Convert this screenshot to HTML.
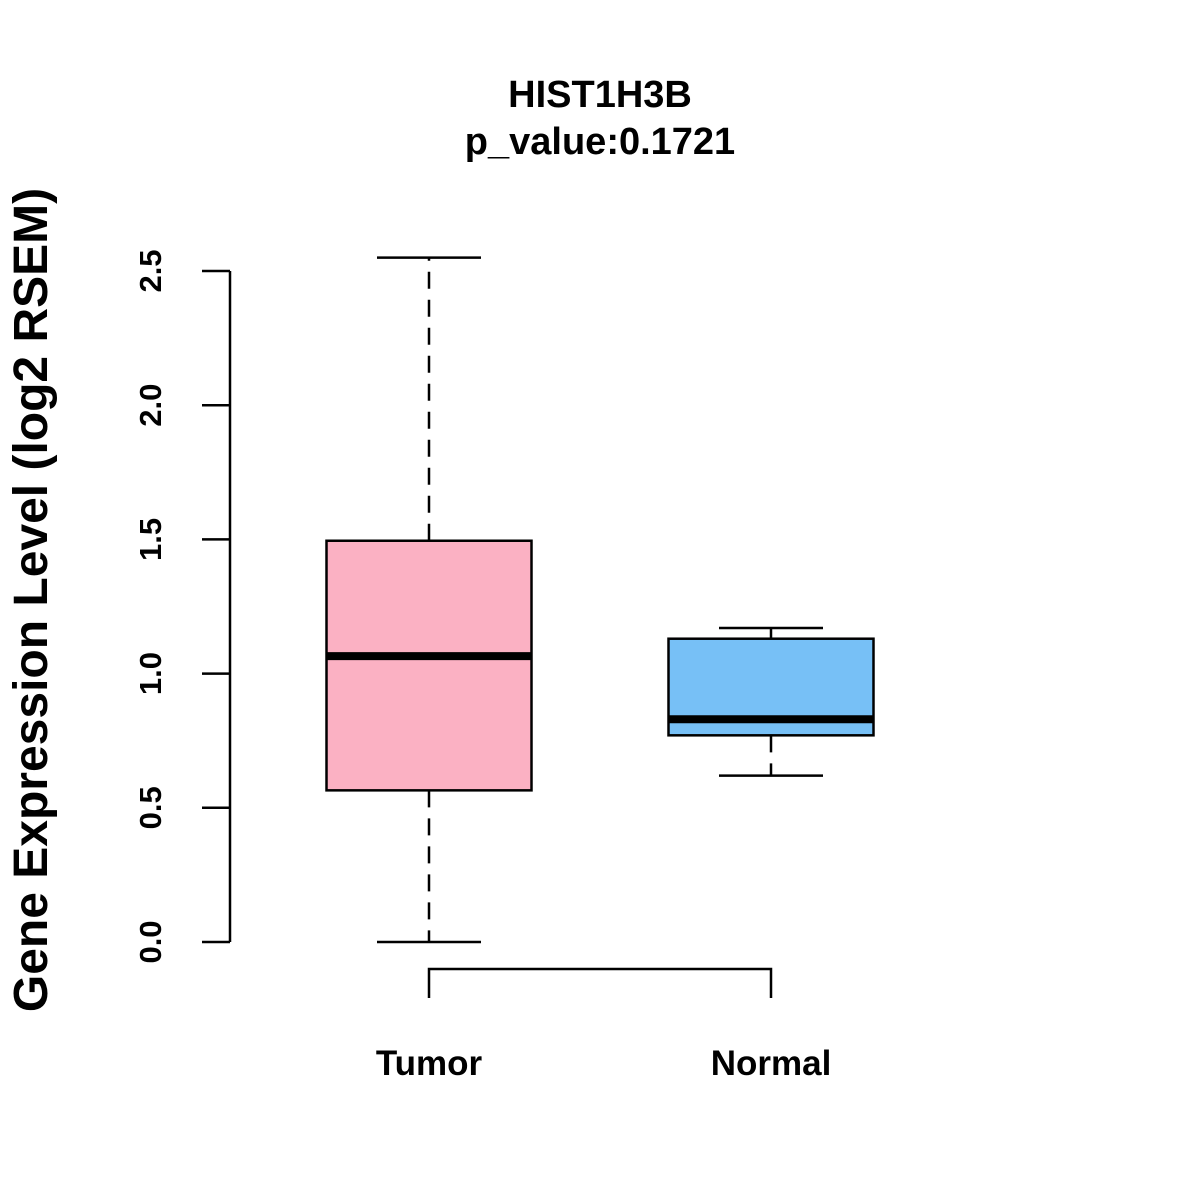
<!DOCTYPE html>
<html><head><meta charset="utf-8"><style>body{margin:0;background:#fff}svg{display:block}</style></head>
<body>
<svg id="chart" width="1200" height="1200" xmlns="http://www.w3.org/2000/svg" font-family="Liberation Sans, sans-serif" font-weight="bold">
<rect width="1200" height="1200" fill="#fff"/>
<text x="600" y="107" text-anchor="middle" font-size="38">HIST1H3B</text>
<text x="600" y="154" text-anchor="middle" font-size="38">p_value:0.1721</text>
<text transform="translate(47,600) rotate(-90)" text-anchor="middle" font-size="48">Gene Expression Level (log2 RSEM)</text>
<g id="yaxis"></g>
<g id="xaxis"></g>
<g id="boxes"></g>
</svg>
<script>
const categories = ["Tumor", "Normal"];
const whiskerLow = [0.0, 0.62];
const q1 = [0.565, 0.77];
const medians = [1.065, 0.83];
const q3 = [1.495, 1.13];
const whiskerHigh = [2.55, 1.17];
const colors = ["#fbb1c3", "#77c0f6"];
const yTicks = [0, 0.5, 1, 1.5, 2, 2.5];
const yTickLabels = ["0.0", "0.5", "1.0", "1.5", "2.0", "2.5"];

const NS = "http://www.w3.org/2000/svg";
const y = v => 942 - v * 268.4;
const x = i => 429 + i * 342;
function mk(parent, tag, attrs) {
  const e = document.createElementNS(NS, tag);
  for (const k in attrs) e.setAttribute(k, attrs[k]);
  parent.appendChild(e);
  return e;
}
const ya = document.getElementById('yaxis');
const l1 = mk(ya, 'line', {x1:230, x2:230, y1:y(yTicks[0]), y2:y(yTicks[yTicks.length-1]), stroke:'#000', 'stroke-width':2.5});


yTicks.forEach((t, i) => {
  const tk = mk(ya, 'line', {x1:202, x2:230, y1:y(t), y2:y(t), stroke:'#000', 'stroke-width':2.5});
  
  
  const tx = mk(ya, 'text', {transform:`translate(161,${y(t)}) rotate(-90)`, 'text-anchor':'middle', 'font-size':31});
  tx.textContent = yTickLabels[i];
  
  
});
const xa = document.getElementById('xaxis');
const bp = mk(xa, 'path', {d:`M${x(0)},998 V969 H${x(categories.length-1)} V998`, fill:'none', stroke:'#000', 'stroke-width':2.5});


categories.forEach((c, i) => {
  const tx = mk(xa, 'text', {x:x(i), y:1075, 'text-anchor':'middle', 'font-size':35});
  tx.textContent = c;
  
  
});
const bx = document.getElementById('boxes');
categories.forEach((c, i) => {
  const cx = x(i), hw = 102.5, cw = 52;
  const g = mk(bx, 'g', {});
  
  
  const w1 = mk(g, 'line', {x1:cx, x2:cx, y1:y(q3[i]), y2:y(whiskerHigh[i]), stroke:'#000', 'stroke-width':2.5, 'stroke-dasharray':'17,11'});
  
  
  const w2 = mk(g, 'line', {x1:cx, x2:cx, y1:y(q1[i]), y2:y(whiskerLow[i]), stroke:'#000', 'stroke-width':2.5, 'stroke-dasharray':'17,11'});
  
  
  const c1 = mk(g, 'line', {x1:cx-cw, x2:cx+cw, y1:y(whiskerHigh[i]), y2:y(whiskerHigh[i]), stroke:'#000', 'stroke-width':2.5});
  
  
  const c2 = mk(g, 'line', {x1:cx-cw, x2:cx+cw, y1:y(whiskerLow[i]), y2:y(whiskerLow[i]), stroke:'#000', 'stroke-width':2.5});
  
  
  const r = mk(g, 'rect', {x:cx-hw, y:y(q3[i]), width:hw*2, height:y(q1[i])-y(q3[i]), fill:colors[i], stroke:'#000', 'stroke-width':2.5});
  
  
  const m = mk(g, 'line', {x1:cx-hw, x2:cx+hw, y1:y(medians[i]), y2:y(medians[i]), stroke:'#000', 'stroke-width':8});
  
  
});
</script>
</body></html>
